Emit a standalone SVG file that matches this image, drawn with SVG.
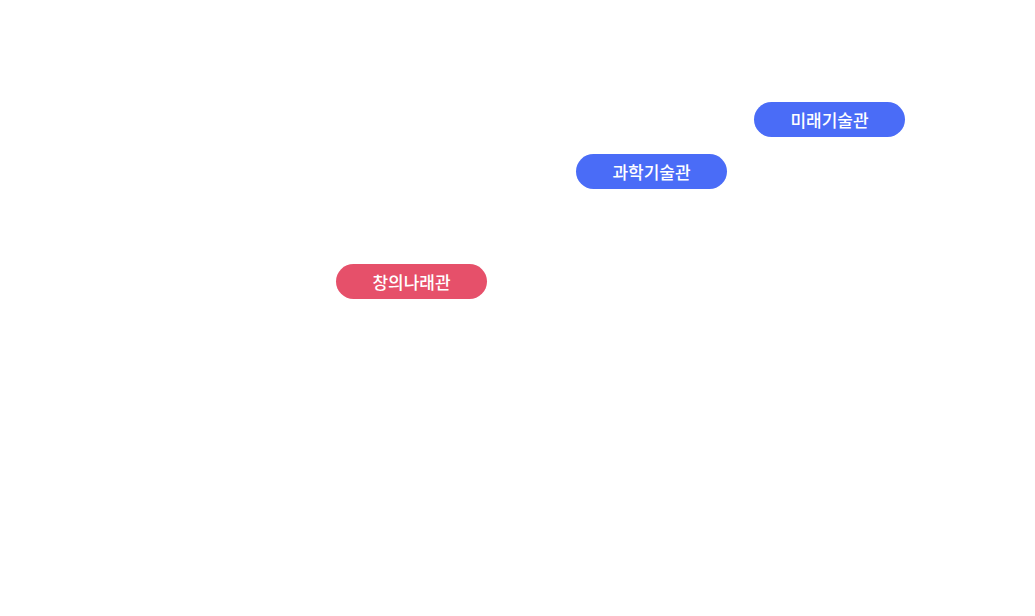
<svg xmlns="http://www.w3.org/2000/svg" width="1035" height="616" viewBox="0 0 1035 616">
<style>
.b{fill:#4a6cf7}.r{fill:#e6506a}
text{fill:#fff;font-family:"Noto Sans CJK KR",sans-serif;font-size:17px;font-weight:500;text-anchor:middle;dominant-baseline:central}
</style>
<rect width="1035" height="616" fill="#fff"/>
<g id="n1"><rect class="b" x="754" y="102" width="151" height="35" rx="17.5"/><text x="829.5" y="119.5">미래기술관</text></g>
<g id="n2"><rect class="b" x="576" y="154" width="151" height="35" rx="17.5"/><text x="651.5" y="171.5">과학기술관</text></g>
<g id="n3"><rect class="r" x="336" y="264" width="151" height="35" rx="17.5"/><text x="411.5" y="281.5">창의나래관</text></g>
<g id="connectors"/>
</svg>
